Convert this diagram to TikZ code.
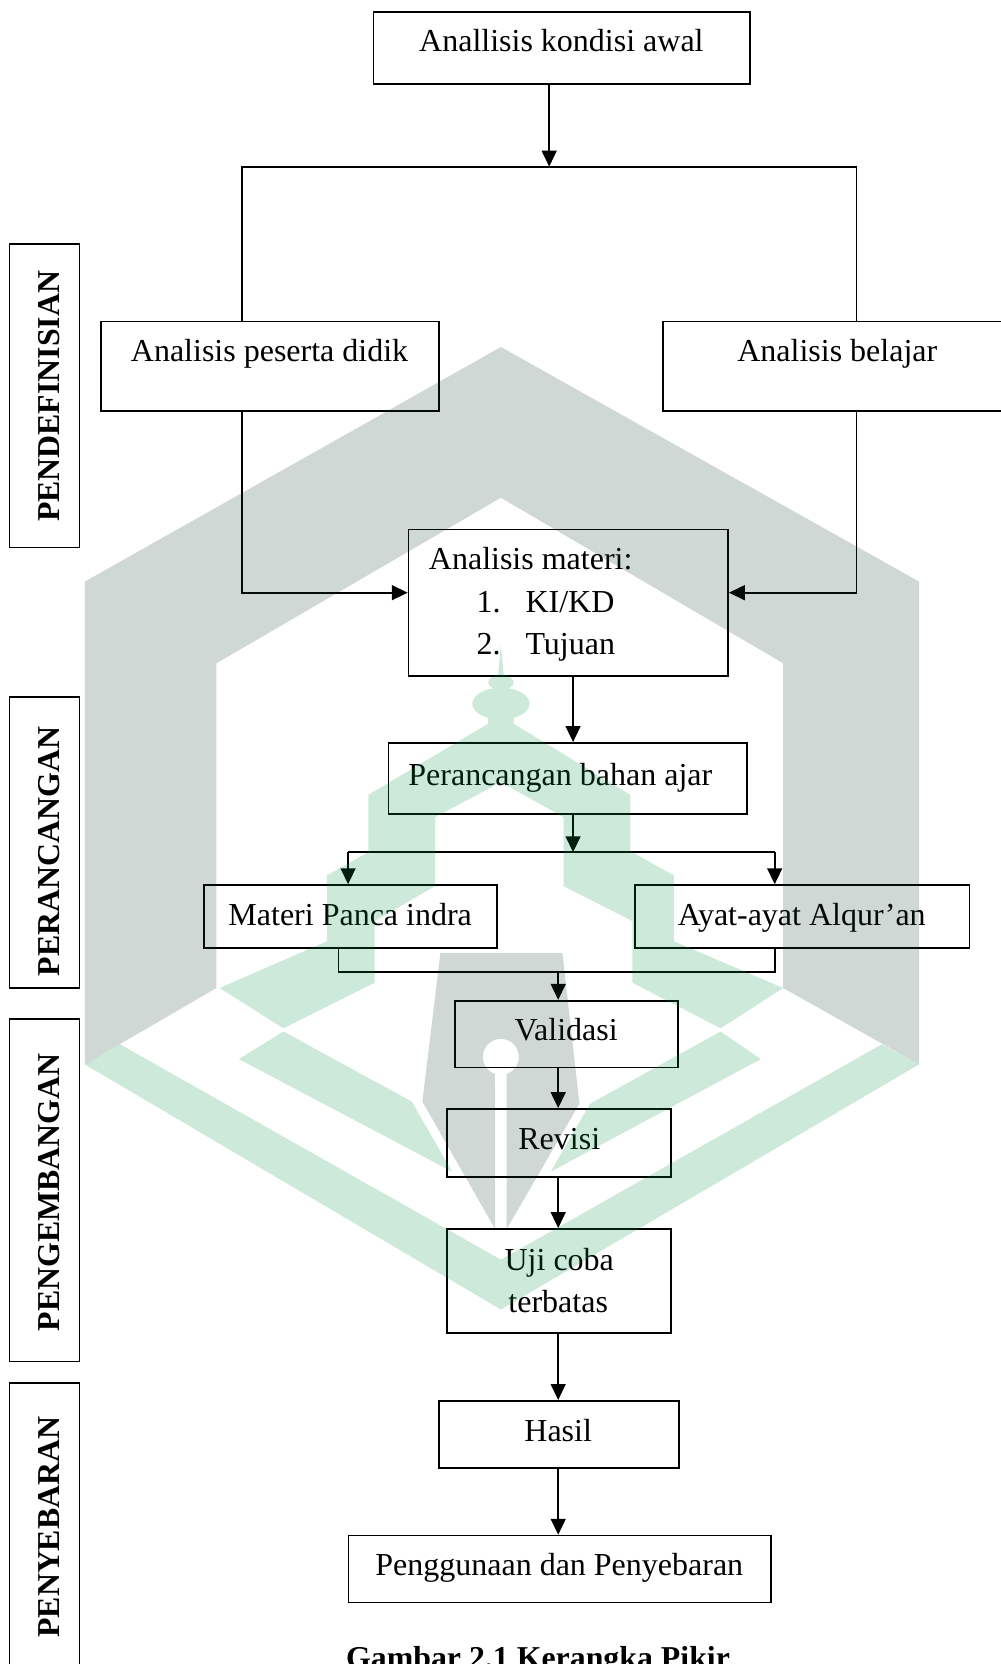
\documentclass[tikz,border=0pt]{standalone}
\usepackage{fontspec}
\setmainfont{Liberation Serif}
\usetikzlibrary{arrows.meta,calc}
\definecolor{wmgray}{RGB}{15,60,45}
\definecolor{wmgreen}{RGB}{0,145,70}
\tikzset{
  bx/.style={draw=black,line width=1.6pt,inner sep=0pt,fill=none},
  lbl/.style={anchor=base,inner sep=0pt,font=\fontsize{30.15}{40}\selectfont},
  side/.style={anchor=center,inner sep=0pt,rotate=90,font=\fontsize{30}{40}\selectfont\bfseries},
  conn/.style={line width=1.7pt,draw=black},
  arr/.style={conn,-{Triangle[length=15pt,width=14pt]}},
  wmg/.style={fill=wmgray,opacity=.2,draw=none},
  wmv/.style={fill=wmgreen,draw=none}
}
\begin{document}
\begin{tikzpicture}[x=1pt,y=-1pt]
\useasboundingbox (0,0) rectangle (943,1568);
% boxes
\node[bx,minimum width=355pt,minimum height=68pt] (top) at (529.5,45) {};
\node[bx,minimum width=318pt,minimum height=84pt] (peserta) at (254.5,345) {};
\node[bx,minimum width=330pt,minimum height=84pt] (belajar) at (789.5,345) {};
\node[bx,minimum width=301pt,minimum height=138pt] (materi) at (535.5,568) {};
\node[bx,minimum width=338pt,minimum height=67pt] (rancang) at (535,733.5) {};
\node[bx,minimum width=276pt,minimum height=59pt] (panca) at (330,863.5) {};
\node[bx,minimum width=315pt,minimum height=59pt] (ayat) at (756,863.5) {};
\node[bx,minimum width=210pt,minimum height=63pt] (validasi) at (534,974.5) {};
\node[bx,minimum width=211pt,minimum height=64pt] (revisi) at (526.5,1077) {};
\node[bx,minimum width=211pt,minimum height=98pt] (uji) at (526.5,1207) {};
\node[bx,minimum width=226pt,minimum height=63pt] (hasil) at (526.5,1351.5) {};
\node[bx,minimum width=398pt,minimum height=63pt] (guna) at (527.5,1478.5) {};
\node[bx,minimum width=66pt,minimum height=286pt] (s1) at (42,373) {};
\node[bx,minimum width=66pt,minimum height=274pt] (s2) at (42,794) {};
\node[bx,minimum width=66pt,minimum height=323pt] (s3) at (42,1121.5) {};
\node[bx,minimum width=66pt,minimum height=300pt] (s4) at (42,1453) {};
% texts
\node[lbl] (t1) at (529,48.5) {Anallisis kondisi awal};
\node[lbl] (t2) at (254,341) {Analisis peserta didik};
\node[lbl] (t3) at (789,341) {Analisis belajar};
\node[lbl,anchor=base west] (t4) at (404,537) {Analisis materi:};
\node[lbl,anchor=base west] (t5a) at (449,577) {1.};
\node[lbl,anchor=base west] (t5b) at (495,577) {KI/KD};
\node[lbl,anchor=base west] (t6a) at (449,617) {2.};
\node[lbl,anchor=base west] (t6b) at (495,617) {Tujuan};
\node[lbl] (t7) at (528,740) {Perancangan bahan ajar};
\node[lbl] (t8) at (330,872) {Materi Panca indra};
\node[lbl] (t9) at (755.5,872) {Ayat-ayat Alqur’an};
\node[lbl] (t10) at (533.5,980) {Validasi};
\node[lbl] (t11) at (527,1083) {Revisi};
\node[lbl] (t12) at (527,1197) {Uji coba};
\node[lbl] (t13) at (526,1237) {terbatas};
\node[lbl] (t14) at (526,1358) {Hasil};
\node[lbl] (t15) at (527,1485) {Penggunaan dan Penyebaran};
\node[lbl,font=\fontsize{30}{40}\selectfont\bfseries] (cap) at (507,1572) {Gambar 2.1 Kerangka Pikir};
\node[side] (l1) at (46,373.5) {PENDEFINISIAN};
\node[side] (l2) at (46,802.5) {PERANCANGAN};
\node[side] (l3) at (46,1123.5) {PENGEMBANGAN};
\node[side] (l4) at (46,1439) {PENYEBARAN};
% junctions
\coordinate (j1) at (517.5,157);
\coordinate (j1l) at (228,157);
\coordinate (j1r) at (807,157);
\coordinate (j2l) at (228,558.5);
\coordinate (j2r) at (807,558.5);
\coordinate (xm) at (540,0);
\coordinate (j3) at (540,803);
\coordinate (j3l) at (328,803);
\coordinate (j3r) at (730,803);
\coordinate (j4) at (526,916);
\coordinate (j4l) at (319,916);
\coordinate (j4r) at (730,916);
% connectors
\draw[arr] (top.south -| j1) -- (j1);
\draw[conn] (peserta.north -| j1l) -- (j1l) -- (j1r) -- (belajar.north -| j1r);
\draw[arr] (peserta.south -| j2l) -- (j2l) -- (materi.west |- j2l);
\draw[arr] (belajar.south -| j2r) -- (j2r) -- (materi.east |- j2r);
\draw[arr] (materi.south -| xm) -- (rancang.north -| xm);
\draw[arr] (rancang.south -| j3) -- (j3);
\draw[conn] (j3l) -- (j3r);
\draw[arr] (j3l) -- (panca.north -| j3l);
\draw[arr] (j3r) -- (ayat.north -| j3r);
\draw[conn] (panca.south -| j4l) -- (j4l) -- (j4r) -- (ayat.south -| j4r);
\draw[arr] (j4) -- (validasi.north -| j4);
\draw[arr] (validasi.south -| j4) -- (revisi.north -| j4);
\draw[arr] (revisi.south -| j4) -- (uji.north -| j4);
\draw[arr] (uji.south -| j4) -- (hasil.north -| j4);
\draw[arr] (hasil.south -| j4) -- (guna.north -| j4);
% watermark, gray parts
\fill[wmg] (472,327) -- (866,548) -- (866,1003) -- (738,931) -- (738,625) -- (472,469)
  -- (204,625) -- (204,931) -- (80,1003) -- (80,548) -- cycle;
\fill[wmg] (415,898) -- (530,898) -- (546,1040) -- (477.5,1158) -- (477.5,1012)
  arc[start angle=-71,end angle=251,radius=17pt] -- (466.5,1158) -- (398,1038) -- cycle;
% watermark, green parts
\begin{scope}[transparency group,opacity=.2]
\fill[wmv] (80,1003) -- (472,1234) -- (866,1003) -- (831,984) -- (472,1187) -- (113,984) -- cycle;
\fill[wmv] (267,972) -- (225,998) -- (426,1104) -- (388,1038) -- cycle;
\fill[wmv] (679,972) -- (717,998) -- (519,1104) -- (556,1040) -- cycle;
\fill[wmv] (460,670) -- (460,682) -- (347,749) -- (347,803) -- (308,825) -- (308,887) -- (207,931) -- (267,969)
  -- (353,926) -- (353,868) -- (410,835) -- (410,770) -- (472,737) -- (531,770) -- (531,835)
  -- (596,868) -- (596,926) -- (679,969) -- (738,931) -- (635,887) -- (635,825) -- (594,802)
  -- (594,749) -- (484,682) -- (484,670) -- cycle;
\fill[wmv] (472,663) ellipse[x radius=27pt,y radius=15pt];
\fill[wmv] (472,643) ellipse[x radius=12pt,y radius=7pt];
\fill[wmv] (469,640) -- (472,608) -- (475,640) -- cycle;
\end{scope}
\end{tikzpicture}
\end{document}
